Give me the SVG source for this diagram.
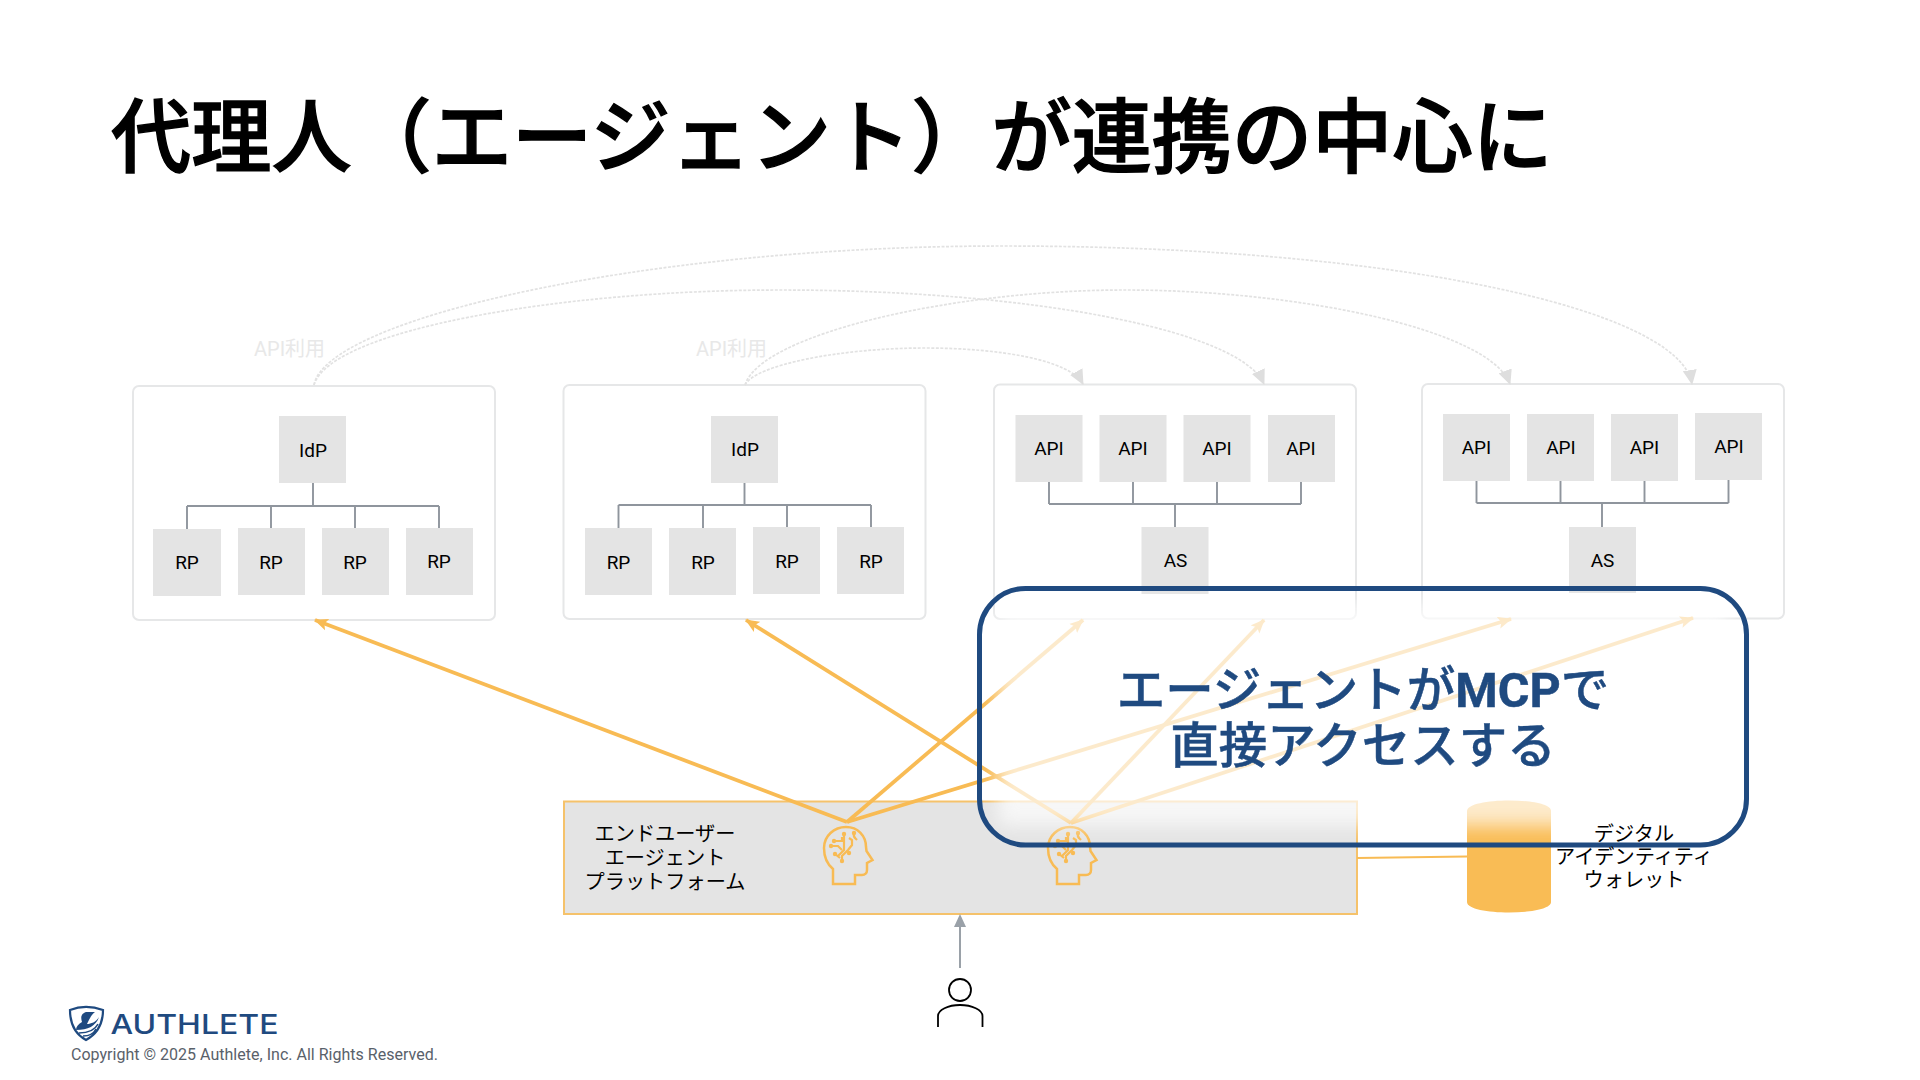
<svg xmlns="http://www.w3.org/2000/svg" width="1920" height="1080" viewBox="0 0 1920 1080">
<style>
text{font-family:Roboto,"Noto Sans CJK JP",sans-serif;fill:#000}
.title{font-family:"Noto Sans CJK JP",sans-serif;font-size:80.200px;font-weight:500;stroke:#000;stroke-width:1.400px}
.box{fill:#fff;stroke:#e6e7e8;stroke-width:2}
.c{fill:#e4e4e4}
.l{font-size:19px;text-anchor:middle}
.jp{font-size:20.200px;text-anchor:middle}
.tree{fill:none;stroke:#8f959d;stroke-width:1.900}
.dash{fill:none;stroke:#e2e2e2;stroke-width:1.700;stroke-dasharray:3 1.500;marker-end:url(#g)}
.or{fill:none;stroke:#f8bb54;stroke-width:3.800;marker-end:url(#o)}
.api{font-size:20px;fill:#e8e8e8}
.call{font-size:48.500px;font-weight:500;fill:#1f4a80;stroke:#1f4a80;stroke-width:.500px;text-anchor:middle}
</style>
<defs>
<marker id="g" markerUnits="userSpaceOnUse" markerWidth="15" markerHeight="14" refX="14" refY="7" orient="auto"><path d="M0 0L15 7L0 14Z" fill="#dedede"/></marker>
<marker id="o" markerUnits="userSpaceOnUse" markerWidth="15" markerHeight="13" refX="13" refY="6.500" orient="auto"><path d="M0 0.500L14 6.500L0 12.500L3 6.500Z" fill="#f8bb54"/></marker>
<filter id="soft" x="-10%" y="-20%" width="120%" height="140%"><feGaussianBlur stdDeviation="9"/></filter>
<g id="head" fill="none" stroke="#f8bb54" stroke-width="2.500">
<path d="M833 884V869C827 864 824 856 824 848C824 836 834 827 846 827C858 827 866 836 866 847L866.500 851L872.500 860L867 863V870C867 873 865 875 862 875H855V884Z"/>
<path d="M842 837V841H835M844 835V850L838 856M832 846H838L842 850M849 838L852 840V845L848 850L842 856V860M840 858L835 854M854 834C853 837 855 838 857 840" stroke-width="2.200"/>
<g fill="#f8bb54" stroke="none"><circle cx="844" cy="834" r="2.200"/><circle cx="834" cy="841" r="2.200"/><circle cx="831" cy="846" r="2.200"/><circle cx="835" cy="854" r="2.200"/><circle cx="842" cy="861" r="2.200"/><circle cx="849" cy="853" r="2.200"/><circle cx="854" cy="833" r="2.200"/></g>
</g>
</defs>
<rect width="1920" height="1080" fill="#fff"/>
<text class="title" x="111" y="166">代理人（エージェント）が連携の中心に</text>

<g id="domain-1">
<rect class="box" x="133" y="386" width="362" height="234" rx="6"/>
<path class="tree" d="M313 483V506M187 506H439M187 506V529M271 506V528M355 506V528M439 506V528"/>
<g id="d1-idp"><rect class="c" x="279" y="416" width="67" height="67"/><text class="l" x="313" y="457">IdP</text></g>
<g id="d1-rp1"><rect class="c" x="153" y="529" width="68" height="67"/><text class="l" x="187" y="569">RP</text></g>
<g id="d1-rp2"><rect class="c" x="238" y="528" width="67" height="67"/><text class="l" x="271" y="569">RP</text></g>
<g id="d1-rp3"><rect class="c" x="322" y="528" width="67" height="67"/><text class="l" x="355" y="569">RP</text></g>
<g id="d1-rp4"><rect class="c" x="406" y="528" width="67" height="67"/><text class="l" x="439" y="568">RP</text></g>
</g>
<g id="domain-2">
<rect class="box" x="563.500" y="385" width="362" height="234" rx="6"/>
<path class="tree" d="M744.500 483V505M618.500 505H871M618.500 505V528M703 505V528M787 505V527M871 505V527"/>
<g id="d2-idp"><rect class="c" x="711" y="416" width="67" height="67"/><text class="l" x="745" y="456">IdP</text></g>
<g id="d2-rp1"><rect class="c" x="585" y="528" width="67" height="67"/><text class="l" x="618.500" y="569">RP</text></g>
<g id="d2-rp2"><rect class="c" x="669" y="528" width="67" height="67"/><text class="l" x="703" y="569">RP</text></g>
<g id="d2-rp3"><rect class="c" x="753" y="527" width="67" height="67"/><text class="l" x="787" y="568">RP</text></g>
<g id="d2-rp4"><rect class="c" x="837" y="527" width="67" height="67"/><text class="l" x="871" y="568">RP</text></g>
</g>
<g id="domain-3">
<rect class="box" x="994" y="384.500" width="362" height="234.500" rx="6"/>
<path class="tree" d="M1175 504V527M1049 504H1301M1049 482V504M1133 482V504M1217 482V504M1301 482V504"/>
<g id="d3-api1"><rect class="c" x="1015.500" y="415" width="67" height="67"/><text class="l" x="1049" y="455">API</text></g>
<g id="d3-api2"><rect class="c" x="1099.500" y="415" width="67" height="67"/><text class="l" x="1133" y="455">API</text></g>
<g id="d3-api3"><rect class="c" x="1183.500" y="415" width="67" height="67"/><text class="l" x="1217" y="455">API</text></g>
<g id="d3-api4"><rect class="c" x="1268" y="415" width="67" height="67"/><text class="l" x="1301" y="455">API</text></g>
<g id="d3-as"><rect class="c" x="1141.500" y="527" width="67" height="67"/><text class="l" x="1175.500" y="567">AS</text></g>
</g>
<g id="domain-4">
<rect class="box" x="1422" y="384" width="362" height="234.500" rx="6"/>
<path class="tree" d="M1602 503V527M1476.500 503H1728.500M1476.500 481V503M1560.500 481V503M1644.500 481V503M1728.500 480V503"/>
<g id="d4-api1"><rect class="c" x="1443" y="414" width="67" height="67"/><text class="l" x="1476.500" y="454">API</text></g>
<g id="d4-api2"><rect class="c" x="1527" y="414" width="67" height="67"/><text class="l" x="1561" y="454">API</text></g>
<g id="d4-api3"><rect class="c" x="1611" y="414" width="67" height="67"/><text class="l" x="1644.500" y="454">API</text></g>
<g id="d4-api4"><rect class="c" x="1695" y="413" width="67" height="67"/><text class="l" x="1729" y="453">API</text></g>
<g id="d4-as"><rect class="c" x="1569" y="527" width="67" height="66"/><text class="l" x="1602.500" y="567">AS</text></g>
</g>

<g id="platform">
<rect x="564" y="801.500" width="793" height="112.500" fill="#e4e4e4" stroke="#f5c26b" stroke-width="2"/>
<text class="jp" x="665" y="841">エンドユーザー</text>
<text class="jp" x="665" y="865">エージェント</text>
<text class="jp" x="665" y="889">プラットフォーム</text>
</g>
<g id="agent-1"><use href="#head"/></g>
<g id="agent-2"><use href="#head" x="224"/></g>
<g id="wallet">
<path d="M1467 811C1467 797 1551 797 1551 811V902C1551 916 1467 916 1467 902Z" fill="#f9bc55"/>
</g>
<g id="user" fill="none" stroke="#000" stroke-width="1.800">
<circle cx="960" cy="990" r="11"/>
<path d="M938 1027V1016C938 1010 948 1005 960 1005C972 1005 982.500 1010 982.500 1016V1027"/>
</g>

<g id="connectors">
<path class="dash" d="M314 385C325 320 640 246 1003 246C1400 246 1680 310 1692 384"/>
<path class="dash" d="M314 385C330 330 560 290 780 290C1030 290 1240 330 1264 384"/>
<path class="dash" d="M745 385C760 335 950 290 1125 290C1300 290 1490 330 1510 384"/>
<path class="dash" d="M745 385C755 365 840 348 925 348C1000 348 1070 360 1083 384"/>
<path class="or" d="M847 822L315 620"/>
<path class="or" d="M847 822L1083 620"/>
<path class="or" d="M847 822L1511 619"/>
<path class="or" d="M1071 823L746 620"/>
<path class="or" d="M1071 823L1264 620"/>
<path class="or" d="M1071 823L1693 618"/>
<path d="M1357 858L1467 856.500" fill="none" stroke="#f8bb54" stroke-width="2"/>
<path d="M960 968V924" fill="none" stroke="#9aa1a8" stroke-width="2"/>
<path d="M954 927L960 914L966 927Z" fill="#9aa1a8"/>
</g>
<text class="api" x="254" y="356">API利用</text>
<text class="api" x="696" y="356">API利用</text>

<g id="callout">
<rect x="998" y="604" width="730" height="222" fill="#fff" opacity=".7" filter="url(#soft)"/>
<rect x="979.500" y="588.500" width="767" height="256.500" rx="46" fill="none" stroke="#1f4a80" stroke-width="5"/>
<text class="call" x="1363" y="707">エージェントが<tspan font-weight="700">MCP</tspan>で</text>
<text class="call" x="1363" y="763">直接アクセスする</text>
</g>
<g id="wallet-label">
<text class="jp" x="1634" y="841">デジタル</text>
<text class="jp" x="1634" y="864">アイデンティティ</text>
<text class="jp" x="1634" y="887">ウォレット</text>
</g>

<g id="logo">
<path d="M70 1010C80 1006 92 1006 103 1010C103 1025 97 1034 86 1040C75 1034 70 1025 70 1010Z" fill="none" stroke="#1f4a80" stroke-width="2.200"/>
<path d="M76 1030C88 1030 96 1026 99 1017C96 1022 91 1024 87 1024C89 1020 91 1015 95 1012L86 1012C80 1014 81 1019 82 1022C78 1024 76 1027 76 1030Z" fill="#1f4a80"/>
<path d="M79 1033C88 1033 95 1030 98 1024M83 1036C90 1036 94 1033 96 1029" fill="none" stroke="#1f4a80" stroke-width="1.600"/>
<text x="110.500" y="1034" font-size="27.500" font-weight="500" textLength="168" lengthAdjust="spacingAndGlyphs" style="font-family:Inter,sans-serif;fill:#1f4a80">AUTHLETE</text>
<text x="71" y="1060" font-size="16" textLength="367" style="fill:#59616a">Copyright © 2025 Authlete, Inc. All Rights Reserved.</text>
</g>
</svg>
